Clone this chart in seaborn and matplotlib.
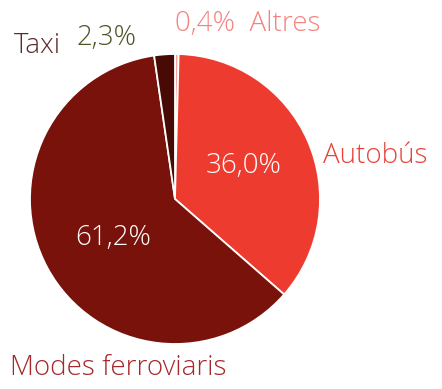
import matplotlib
matplotlib.use("Agg")
import matplotlib.pyplot as plt
import seaborn as sns

# Modal split of trips (percent), clockwise from the top
categories = ["Altres", "Autobús", "Modes ferroviaris", "Taxi"]
shares = [0.4, 36.0, 61.2, 2.3]

slice_colors = ["#F6A3A0", "#EE3B2F", "#79120B", "#470A05"]

sns.set_theme(style="white")
plt.rcParams["font.family"] = ["Open Sans", "DejaVu Sans"]

W, H = 442, 389
fig = plt.figure(figsize=(W / 100, H / 100), dpi=100)
ax = fig.add_axes([0, 0, 1, 1])
ax.set_xlim(0, W)
ax.set_ylim(0, H)
ax.set_aspect("equal")
ax.axis("off")

cx, cy, r = 175, H - 199, 145
ax.pie(shares, colors=slice_colors, startangle=90, counterclock=False,
       center=(cx, cy), radius=r,
       wedgeprops=dict(edgecolor="white", linewidth=1.3))
ax.set_xlim(0, W)
ax.set_ylim(0, H)


def pct(v):
    return f"{v:.1f}".replace(".", ",") + "%"


fs = 20
kw = dict(fontsize=fs, fontweight="light", va="center")
ax.text(175, H - 24, f"{pct(shares[0])}  {categories[0]}", color="#F38482",
        ha="left", **kw)
ax.text(14, H - 46, categories[3], color="#5C2A2A", ha="left", **kw)
ax.text(77, H - 38, pct(shares[3]), color="#4A5526", ha="left", **kw)
ax.text(323, H - 156, categories[1], color="#E8423B", ha="left", **kw)
ax.text(10, H - 368, categories[2], color="#A5282A", ha="left", **kw)
ax.text(244, H - 166, pct(shares[1]), color="white", ha="center", **kw)
ax.text(113, H - 238, pct(shares[2]), color="white", ha="center", **kw)

fig.savefig("out.png", dpi=100, facecolor="white")
